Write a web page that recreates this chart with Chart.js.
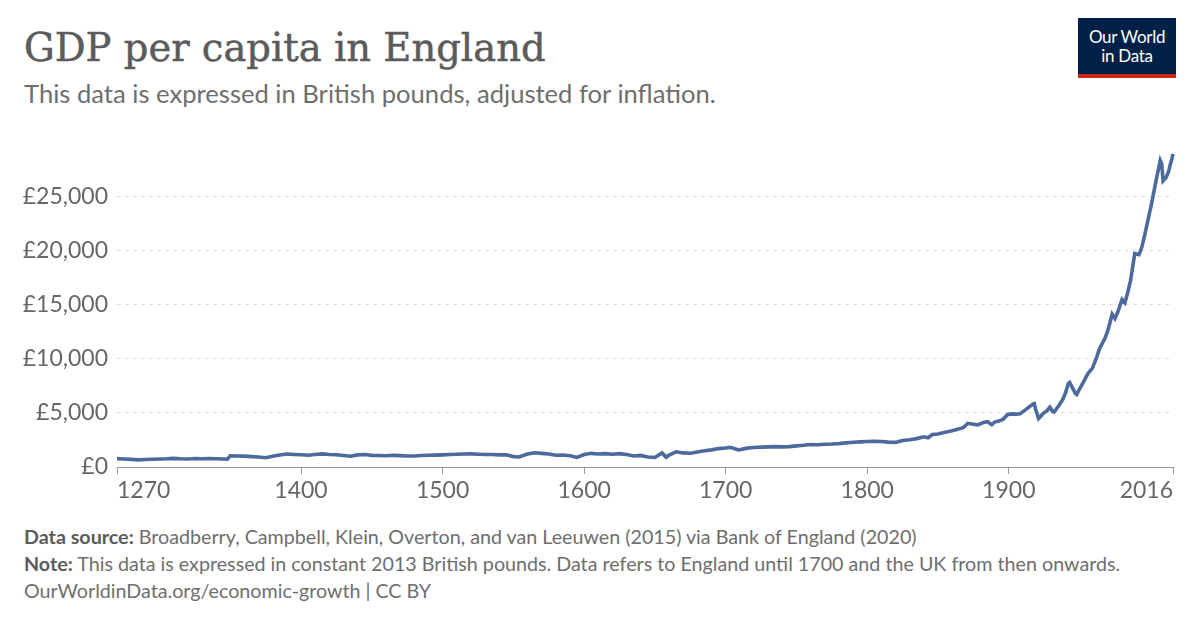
<!DOCTYPE html>
<html>
<head>
<meta charset="utf-8">
<script src="https://cdn.jsdelivr.net/npm/chart.js@4"></script>
<style>
    body { margin: 0; width: 1200px; height: 628px; background: #fff; position: relative; overflow: hidden; font-family: Lato, sans-serif; }
    .title { position: absolute; left: 24px; top: 29px; font-family: "DejaVu Serif", serif; font-size: 38.5px; line-height: 38.5px; color: #5b5b5b; white-space: nowrap; -webkit-text-stroke: 0.5px #5b5b5b; }
    .subtitle { position: absolute; left: 24px; top: 81px; font-size: 25.6px; line-height: 25.6px; color: #6e6e6e; white-space: nowrap; }
    .logo { position: absolute; left: 1078px; top: 18px; width: 98px; height: 60px; background: #002147; border-bottom: 4px solid #ce261e; color: #fff; font-size: 17px; line-height: 19px; text-align: center; padding-top: 9px; box-sizing: border-box; letter-spacing: -0.3px; }
    .foot { position: absolute; left: 24px; font-size: 19.7px; line-height: 19.7px; color: #6e6e6e; white-space: nowrap; }
    .foot b { color: #5b5b5b; font-weight: bold; }
    #wrap { position: absolute; left: 0; top: 130px; width: 1200px; height: 377px; }
</style>
</head>
<body>
<div class="title">GDP per capita in England</div>
<div class="subtitle">This data is expressed in British pounds, adjusted for inflation.</div>
<div class="logo">Our World<br>in Data</div>
<div id="wrap"><canvas id="gdpChart"></canvas></div>
<div class="foot" style="top:527px"><b>Data source:</b> Broadberry, Campbell, Klein, Overton, and van Leeuwen (2015) via Bank of England (2020)</div>
<div class="foot" style="top:554px"><b>Note:</b> This data is expressed in constant 2013 British pounds. Data refers to England until 1700 and the UK from then onwards.</div>
<div class="foot" style="top:581px">OurWorldinData.org/economic-growth | CC BY</div>

<script>
// years and GDP per capita (2013 £)
const years = [
    1270, 1275, 1280, 1285, 1290, 1295, 1300, 1305, 1310, 1315, 1320, 1325, 1330, 1335, 1340, 1345, 1348,
    1350, 1355, 1360, 1365, 1370, 1375, 1380, 1385, 1390, 1395, 1400, 1405, 1410, 1415, 1420, 1425, 1430,
    1435, 1440, 1445, 1450, 1455, 1460, 1465, 1470, 1475, 1480, 1485, 1490, 1495, 1500, 1505, 1510, 1515,
    1520, 1525, 1530, 1535, 1540, 1545, 1550, 1554, 1560, 1565, 1570, 1575, 1580, 1585, 1590, 1595, 1600,
    1605, 1610, 1615, 1620, 1625, 1630, 1635, 1640, 1645, 1650, 1655, 1658, 1660, 1665, 1670, 1675, 1680,
    1685, 1690, 1695, 1700, 1703, 1706, 1709, 1712, 1715, 1720, 1725, 1730, 1735, 1740, 1745, 1750, 1755,
    1760, 1765, 1770, 1775, 1780, 1785, 1790, 1795, 1800, 1805, 1810, 1815, 1820, 1825, 1830, 1835, 1840,
    1843, 1846, 1850, 1855, 1860, 1865, 1868, 1871, 1875, 1878, 1882, 1885, 1888, 1890, 1893, 1896, 1899,
    1902, 1905, 1908, 1911, 1914, 1917, 1918, 1919, 1921, 1924, 1927, 1929, 1931, 1932, 1935, 1938, 1940,
    1942, 1943, 1945, 1947, 1948, 1950, 1953, 1956, 1959, 1962, 1964, 1968, 1970, 1973, 1975, 1977, 1980,
    1982, 1984, 1986, 1989, 1992, 1994, 1996, 1998, 2001, 2004, 2007, 2008, 2009, 2011, 2013, 2014, 2015, 2016
];
const gdpPerCapita = [
    770, 740, 700, 660, 690, 720, 740, 760, 800, 760, 740, 780, 760, 790, 760, 740, 720,
    1040, 1020, 1000, 960, 920, 860, 1000, 1100, 1200, 1160, 1130, 1080, 1150, 1210, 1160, 1130, 1060,
    990, 1120, 1150, 1070, 1060, 1040, 1080, 1050, 1020, 1010, 1060, 1080, 1100, 1120, 1150, 1180, 1200,
    1220, 1180, 1150, 1160, 1120, 1130, 960, 920, 1200, 1310, 1260, 1200, 1080, 1100, 1040, 880, 1150,
    1260, 1200, 1230, 1180, 1230, 1150, 1020, 1070, 920, 880, 1300, 900, 1100, 1400, 1300, 1270, 1380,
    1500, 1580, 1700, 1750, 1810, 1700, 1570, 1650, 1740, 1800, 1830, 1860, 1880, 1860, 1880, 1950, 2000,
    2080, 2060, 2100, 2120, 2160, 2230, 2290, 2320, 2350, 2380, 2350, 2300, 2270, 2450, 2520, 2620, 2790,
    2700, 3000, 3050, 3200, 3350, 3520, 3650, 4030, 3950, 3890, 4100, 4180, 3900, 4150, 4250, 4400, 4830,
    4900, 4880, 4920, 5200, 5500, 5800, 5850, 5300, 4480, 4900, 5200, 5520, 5100, 5070, 5600, 6200, 6800,
    7700, 7800, 7300, 6800, 6700, 7200, 7900, 8650, 9100, 10100, 10900, 11900, 12600, 14100, 13700, 14300, 15450,
    15150, 16100, 17200, 19700, 19600, 20300, 21400, 22600, 24400, 26400, 28300, 28000, 26400, 26700, 27300, 27900, 28300, 28900
];
const xTicks = [1270, 1400, 1500, 1600, 1700, 1800, 1900, 2016];
const yTicks = [0, 5000, 10000, 15000, 20000, 25000];

const points = years.map((y, i) => ({ x: y, y: gdpPerCapita[i] }));

new Chart(document.getElementById('gdpChart'), {
    type: 'line',
    data: {
        datasets: [{
            data: points,
            borderColor: '#4c6a9c',
            borderWidth: 3.6,
            pointRadius: 0,
            tension: 0,
            clip: 6
        }]
    },
    options: {
        responsive: true,
        maintainAspectRatio: false,
        animation: false,
        layout: { padding: { top: 11, right: 27, left: 0, bottom: 0 } },
        plugins: { legend: { display: false }, tooltip: { enabled: false } },
        scales: {
            x: {
                type: 'linear',
                min: 1270,
                max: 2016,
                afterBuildTicks: scale => { scale.ticks = xTicks.map(v => ({ value: v })); },
                afterFit: scale => { scale.height = 40; },
                border: { display: true, color: '#9a9a9a', width: 1 },
                grid: { drawOnChartArea: false, drawTicks: true, tickLength: 7, color: '#9a9a9a' },
                ticks: {
                    align: 'inner',
                    maxRotation: 0,
                    autoSkip: false,
                    padding: 3,
                    color: '#666',
                    font: { family: 'Lato', size: 23 },
                    callback: v => String(v)
                }
            },
            y: {
                min: 0,
                max: 29000,
                afterBuildTicks: scale => { scale.ticks = yTicks.map(v => ({ value: v })); },
                afterFit: scale => { scale.width = 117; },
                border: { display: false, dash: [4, 4] },
                grid: { drawTicks: false, color: ctx => ctx.tick && ctx.tick.value === 0 ? 'rgba(0,0,0,0)' : '#dddddd', lineWidth: 1 },
                ticks: {
                    padding: 9,
                    color: '#666',
                    font: { family: 'Lato', size: 23 },
                    callback: v => '£' + v.toLocaleString('en-GB')
                }
            }
        }
    }
});
</script>
</body>
</html>
